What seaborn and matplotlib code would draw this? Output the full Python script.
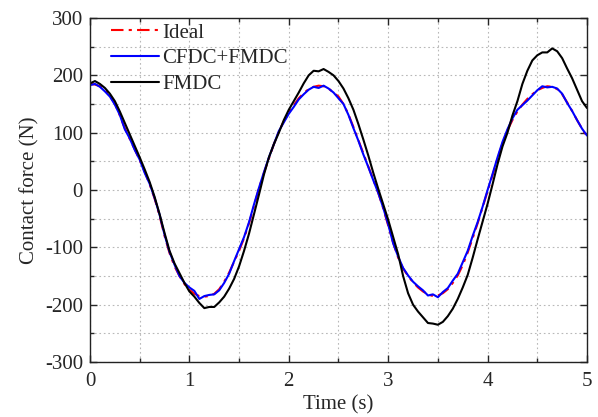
import numpy as np
import pandas as pd
import matplotlib
matplotlib.use("Agg")
import matplotlib.pyplot as plt
from matplotlib.ticker import MultipleLocator
import seaborn as sns

# ---- data ----
time_s = np.round(np.arange(0, 5.0001, 0.05), 2)

ideal = [185, 184, 181, 174, 164, 151, 130, 108, 89, 71, 52, 32, 10, -15, -45, -80, -110, -133, -150, -164,
         -174, -181, -185, -186, -185, -181, -173, -160, -144, -125, -106, -84, -58, -28, 3, 30, 55, 80, 102, 120,
         135, 148, 160, 169, 176, 180, 182, 181, 177, 170, 163, 150, 132, 110, 87, 64, 41, 18, -5, -32,
         -62, -92, -118, -137, -150, -161, -170, -177, -182, -185, -184, -180, -173, -162, -149, -131, -109, -84, -58, -30,
         -2, 26, 55, 81, 104, 122, 137, 149, 159, 167, 174, 178, 181, 180, 176, 167, 153, 138, 122, 107, 93]

cfdc_fmdc = [183, 185, 180, 172, 163, 149, 131, 106, 90, 70, 53, 30, 11, -14, -43, -78, -108, -130, -150, -162,
             -170, -176, -190, -185, -183, -182, -175, -162, -146, -124, -103, -82, -56, -25, 4, 31, 57, 80, 103, 118,
             133, 145, 158, 167, 175, 180, 178, 182, 177, 170, 160, 150, 131, 108, 86, 62, 40, 17, -5, -31,
             -60, -93, -116, -136, -149, -160, -168, -175, -184, -182, -187, -178, -171, -158, -146, -126, -106, -80, -56, -29,
             0, 28, 57, 84, 106, 125, 140, 148, 156, 165, 174, 181, 179, 180, 177, 168, 152, 138, 122, 107, 95]

fmdc = [186, 190, 185, 178, 168, 155, 137, 117, 97, 77, 57, 36, 14, -12, -42, -75, -106, -128, -145, -162,
        -177, -186, -197, -206, -204, -204, -196, -186, -172, -155, -133, -106, -76, -42, -8, 27, 57, 80, 100, 122,
        140, 155, 170, 186, 200, 208, 207, 211, 206, 200, 190, 177, 160, 140, 115, 88, 60, 30, 2, -25,
        -52, -82, -112, -150, -180, -200, -212, -222, -232, -233, -235, -230, -220, -207, -190, -170, -148, -118, -86, -55,
        -24, 10, 45, 76, 100, 130, 155, 185, 208, 226, 235, 240, 240, 247, 242, 230, 212, 195, 175, 155, 143]

series_names = ["Ideal", "CFDC+FMDC", "FMDC"]
x_ticks = [0, 1, 2, 3, 4, 5]
y_ticks = [-300, -200, -100, 0, 100, 200, 300]

df = pd.DataFrame({
    "Time (s)": np.concatenate([time_s] * 3),
    "Contact force (N)": np.concatenate([ideal, cfdc_fmdc, fmdc]),
    "series": np.repeat(series_names, len(time_s)),
})

sns.set_style("ticks")
plt.rcParams["font.family"] = ["Liberation Serif", "DejaVu Serif"]
plt.rcParams["axes.unicode_minus"] = False

fig = plt.figure(figsize=(5.98, 4.17), dpi=100)
ax = fig.add_axes([0.1505, 0.1319, 0.8311, 0.8249])

colors = {"Ideal": "#ff0000", "CFDC+FMDC": "#0000ff", "FMDC": "#000000"}
styles = {"Ideal": (0, (6, 2.5, 1.5, 2.5)), "CFDC+FMDC": "-", "FMDC": "-"}
for name in series_names:
    sub = df[df["series"] == name]
    sns.lineplot(data=sub, x="Time (s)", y="Contact force (N)", ax=ax, color=colors[name],
                 linestyle=styles[name], linewidth=1.5, label=name, estimator=None, sort=False)

ax.set_xlim(0, 5)
ax.set_ylim(-300, 300)
ax.set_xticks(x_ticks)
ax.set_yticks(y_ticks)
ax.xaxis.set_minor_locator(MultipleLocator(0.5))
ax.yaxis.set_minor_locator(MultipleLocator(50))
ax.tick_params(which="both", direction="in", top=True, right=True, labelsize=15, width=1.0)
ax.tick_params(which="major", length=5)
ax.tick_params(which="minor", length=3)
ax.tick_params(axis="x", which="major", pad=7)
ax.tick_params(axis="y", which="major", pad=5)
ax.grid(True, which="both", linestyle=(0, (1.5, 2.5)), color="#b8b8b8", linewidth=0.8)
for sp in ax.spines.values():
    sp.set_linewidth(1.0)
    sp.set_color("#222222")

ax.set_xlabel("Time (s)", fontsize=15, labelpad=3)
ax.set_ylabel("Contact force (N)", fontsize=15, labelpad=4)

leg = ax.legend(loc="upper left", frameon=False, fontsize=15, handlelength=2.3,
                handletextpad=0.15, borderaxespad=0.1, labelspacing=0.3, bbox_to_anchor=(0.022, 1.016))

fig.savefig("out.png", dpi=100)
